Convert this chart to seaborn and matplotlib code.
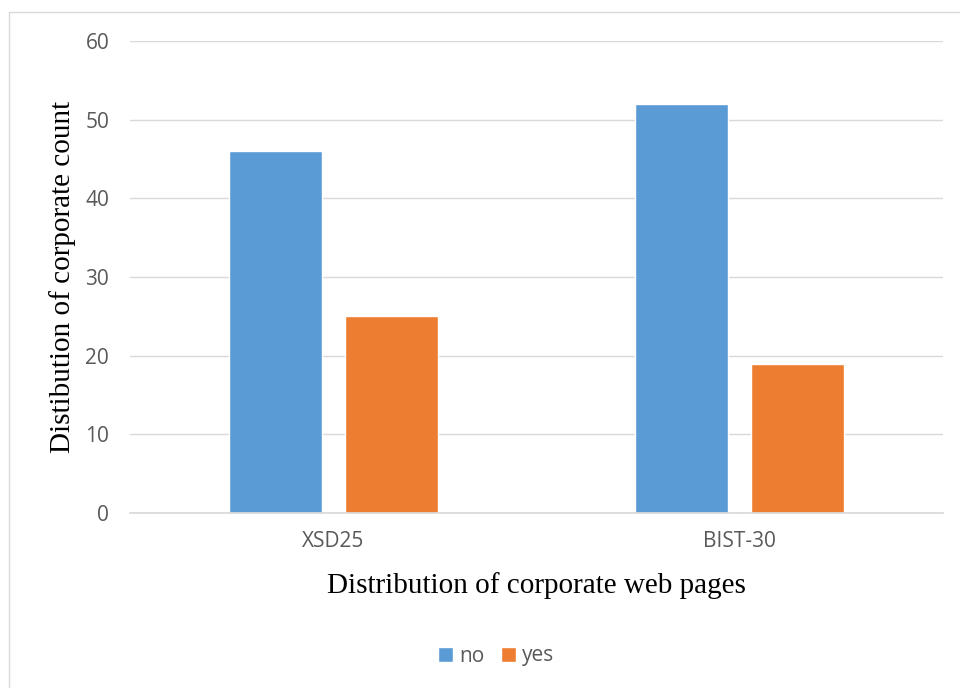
import matplotlib
matplotlib.use('Agg')
import matplotlib.pyplot as plt
import seaborn as sns
import pandas as pd
from matplotlib.patches import Rectangle

# data
indices = ['XSD25', 'BIST-30']
answers = ['no', 'yes']
no_counts = [46, 52]
yes_counts = [25, 19]

df = pd.DataFrame({
    'index': indices * 2,
    'answer': ['no'] * 2 + ['yes'] * 2,
    'count': no_counts + yes_counts,
})

sns.set_theme(style='white')
plt.rcParams['font.family'] = ['Open Sans', 'DejaVu Sans']

fig = plt.figure(figsize=(9.6, 6.88), dpi=100)
ax = fig.add_axes([0.1354, 0.2544, 0.8466, 0.686])

sns.barplot(data=df, x='index', y='count', hue='answer', order=indices,
            hue_order=answers, palette=['#5B9BD5', '#ED7D31'],
            width=0.571, gap=0.2, saturation=1, ax=ax, legend=True)

ax.set_ylim(0, 60)
ax.set_xlim(-0.5, 1.5)
ax.set_yticks(range(0, 61, 10))
ax.yaxis.grid(True, color='#D9D9D9', linewidth=1)
ax.set_axisbelow(True)
for s in ['top', 'right', 'left']:
    ax.spines[s].set_visible(False)
ax.spines['bottom'].set_color('#D9D9D9')
ax.tick_params(axis='both', length=0, labelsize=15, colors='#595959')
ax.tick_params(axis='y', pad=15)
ax.tick_params(axis='x', pad=13)

serif = ['Liberation Serif', 'DejaVu Serif']
ax.set_xlabel('Distribution of corporate web pages', fontsize=21, family=serif,
              color='black', va='center')
ax.set_ylabel('Distibution of corporate count', fontsize=21, family=serif,
              color='black', va='center')
ax.xaxis.set_label_coords(0.5, -0.153)
ax.yaxis.set_label_coords(-0.0836, 0.5)

# legend is centred on the whole chart, not on the plot area
handles, labels = ax.get_legend_handles_labels()
ax.get_legend().remove()
leg = fig.legend(handles, labels, loc='center', bbox_to_anchor=(0.517, 1 - 656 / 688),
                 ncol=2, frameon=False, fontsize=15, handlelength=0.72,
                 handleheight=0.72, handletextpad=0.3, columnspacing=0.8)
for t in leg.get_texts():
    t.set_color('#595959')

# outer chart border
fig.patches.append(Rectangle((9 / 960, -0.01), 1.0, 1 - 12 / 688 + 0.01,
                             transform=fig.transFigure, fill=False,
                             edgecolor='#D9D9D9', linewidth=1))

fig.savefig('out.png', dpi=100, facecolor='white')
